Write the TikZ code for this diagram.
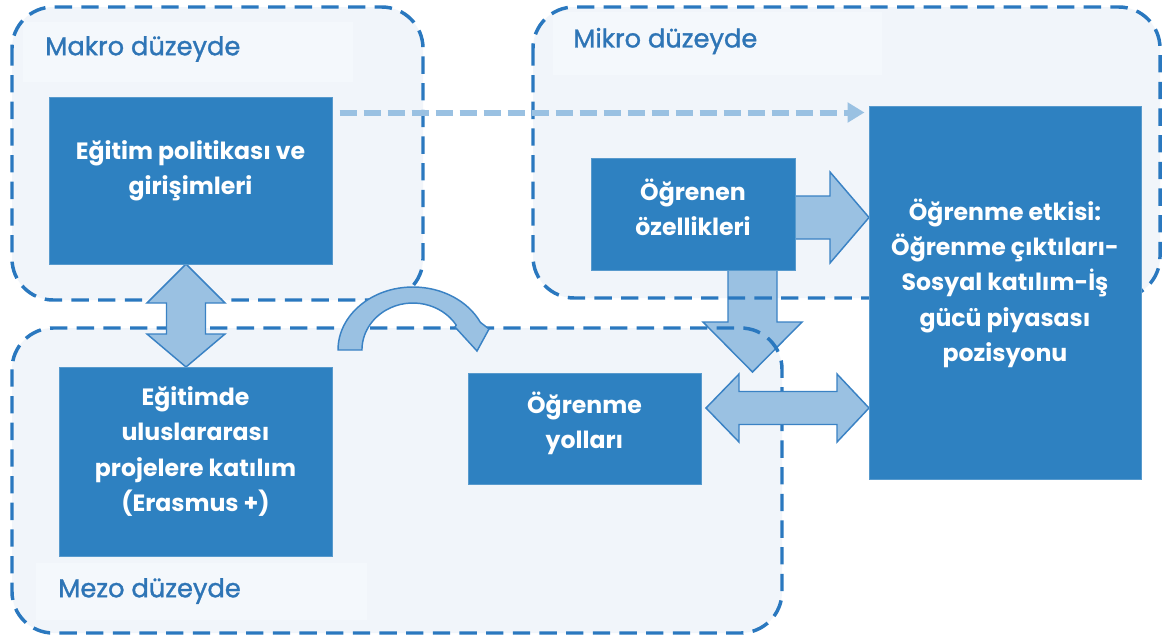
\documentclass[tikz,border=0pt]{standalone}
\usepackage{fontspec}
\setmainfont{Poppins}
\newfontfamily\lblfont{Poppins}[FakeBold=1.2]
\usetikzlibrary{arrows.meta,calc}
\definecolor{cfill}{HTML}{F1F5FA}
\definecolor{lfill}{HTML}{F4F8FC}
\definecolor{dashc}{HTML}{2A78BF}
\definecolor{boxc}{HTML}{2E81C1}
\definecolor{arrf}{HTML}{9AC1E2}
\definecolor{arrd}{HTML}{3A82C4}
\definecolor{labc}{HTML}{2E75B6}
\begin{document}
\begin{tikzpicture}[x=0.75pt,y=-0.75pt,
  contfill/.style={fill=cfill},
  contline/.style={draw=dashc, line width=2.6pt, dash pattern=on 13pt off 7pt, rounded corners=31pt},
  lblbg/.style={fill=lfill},
  lbl/.style={anchor=west, text=labc, font=\lblfont\fontsize{19.3}{22}\selectfont, inner sep=0pt},
  box/.style={fill=boxc, draw=boxc!80!white, line width=0.75pt, inner sep=0pt},
  boxtext/.style={text=white, font=\bfseries\fontsize{17.7}{26.5}\selectfont, align=center, inner sep=0pt},
  blockarrow/.style={fill=arrf, draw=arrd, line width=1.1pt, line join=miter},
  dasharrow/.style={draw=arrf, line width=4.5pt, dash pattern=on 12.75pt off 5.25pt, -{Triangle[length=12.75pt,width=14.5pt]}}
]
\useasboundingbox (0,0) rectangle (1162,640);
\fill[white] (0,0) rectangle (1162,640);

% container fills
\path[contfill, rounded corners=31pt] (12,7) rectangle (423,300);
\path[contfill, rounded corners=31pt] (533,7) rectangle (1160,298);
\path[contfill, rounded corners=31pt] (12,328) rectangle (782,633);

% label backgrounds
\fill[lblbg] (23,22) rectangle (353,82);
\fill[lblbg] (553,12) rectangle (882,75);
\fill[lblbg] (36,563) rectangle (367,620);

% boxes (positions)
\node[box, minimum width=212.25pt, minimum height=125.25pt] (pol) at (190.5,180.5) {};
\node[box, minimum width=204.75pt, minimum height=141.75pt] (eras) at (195.5,461.5) {};
\node[box, minimum width=174.75pt, minimum height=83.25pt] (yol) at (584.5,428.5) {};
\node[box, minimum width=153pt, minimum height=84pt] (ozel) at (693,214) {};
\node[box, minimum width=204pt, minimum height=279.75pt] (etk) at (1005,292.5) {};

% down arrow (under the borders)
\draw[blockarrow] (728,270) -- (777,270) -- (777,322) -- (802,322) -- (752.5,372) -- (703,322) -- (728,322) -- cycle;

% container borders
\draw[contline] (12,7) rectangle (423,300);
\draw[contline] (533,7) rectangle (1160,298);
\draw[contline] (12,328) rectangle (782,633);

% labels
\node[lbl] (lmakro) at (45,49) {Makro düzeyde};
\node[lbl] (lmikro) at (573,41) {Mikro düzeyde};
\node[lbl] (lmezo) at (58,591) {Mezo düzeyde};

% vertical double arrow
\draw[blockarrow] (186,264) -- (225,303) -- (205.5,303) -- (205.5,334) -- (225,334) -- (186,367) -- (147,334) -- (166.5,334) -- (166.5,303) -- (147,303) -- cycle;
% right arrow
\draw[blockarrow] (794,196) -- (830,196) -- (830,172) -- (869,217.5) -- (830,263) -- (830,239) -- (794,239) -- cycle;
% horizontal double arrow
\draw[blockarrow] (706,408) -- (739,374) -- (739,391.5) -- (837,391.5) -- (837,374) -- (869,408) -- (837,442) -- (837,424.5) -- (739,424.5) -- (739,442) -- cycle;
% curved arrow
\draw[blockarrow] (338,350) arc[start angle=180, end angle=26, x radius=56.25pt, y radius=47.25pt]
  -- (489,329) -- (477,351) -- (455,327)
  -- (456.2,325.1) arc[start angle=32, end angle=180, x radius=38.25pt, y radius=35.25pt] -- cycle;

% dashed arrow
\draw[dasharrow] ($(pol.north east)+(7,16)$) -- ($(etk.north west)+(-4,7)$);

% redraw boxes on top
\node[box, minimum width=212.25pt, minimum height=125.25pt,
  label={[boxtext, yshift=7.5pt]center:{Eğitim politikası ve\\girişimleri}}] at (pol.center) {};
\node[box, minimum width=204.75pt, minimum height=141.75pt,
  label={[boxtext, yshift=7.5pt]center:{Eğitimde\\uluslararası\\projelere katılım\\(Erasmus +)}}] at (eras.center) {};
\node[box, minimum width=174.75pt, minimum height=83.25pt,
  label={[boxtext, yshift=4pt]center:{Öğrenme\\yolları}}] at (yol.center) {};
\node[box, minimum width=153pt, minimum height=84pt,
  label={[boxtext, yshift=5.25pt]center:{Öğrenen\\özellikleri}}] at (ozel.center) {};
\node[box, minimum width=204pt, minimum height=279.75pt,
  label={[boxtext, yshift=7pt]center:{Öğrenme etkisi:\\Öğrenme çıktıları-\\Sosyal katılım-İş\\gücü piyasası\\pozisyonu}}] at (etk.center) {};
\end{tikzpicture}
\end{document}
